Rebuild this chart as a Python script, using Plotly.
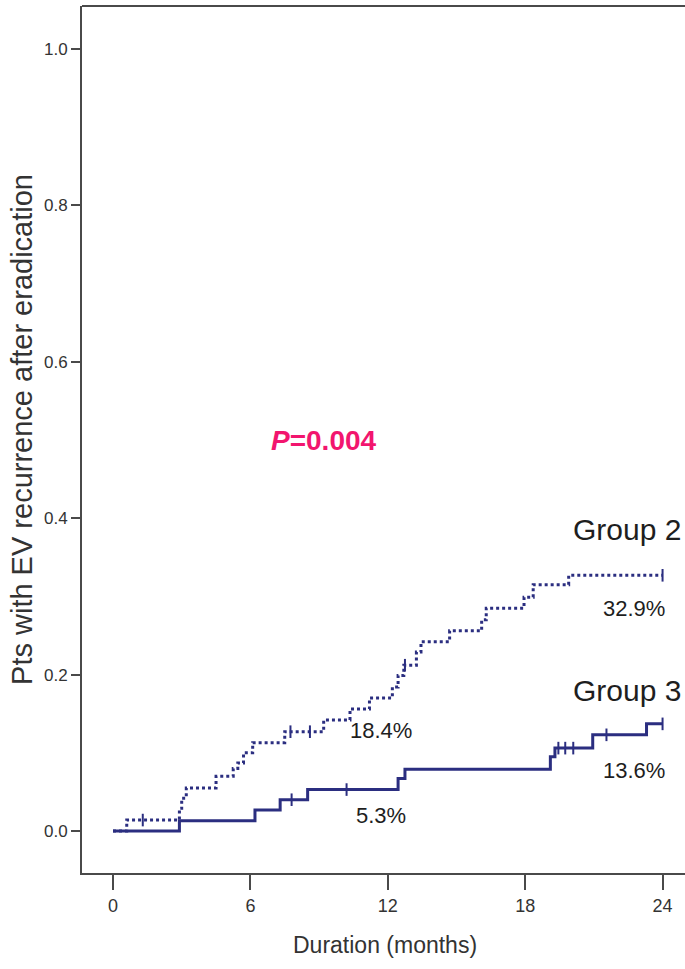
import plotly.graph_objects as go

# ---- data ----
g2_time = [0, 0.6, 2.9, 3.0, 3.2, 4.5, 5.25, 5.45, 5.7, 6.1, 7.5, 9.2, 10.35, 11.2, 12.2, 12.45, 12.7, 13.25, 13.45, 14.7, 16.1, 16.3, 17.95, 18.35, 19.9, 24.0]
g2_value = [0, 0.014, 0.029, 0.042, 0.055, 0.070, 0.080, 0.087, 0.100, 0.113, 0.127, 0.142, 0.156, 0.170, 0.184, 0.199, 0.212, 0.229, 0.242, 0.256, 0.270, 0.285, 0.299, 0.315, 0.327, 0.327]
g2_censor_time = [1.3, 7.75, 8.6, 12.75, 24.0]
g2_censor_value = [0.014, 0.127, 0.127, 0.212, 0.327]

g3_time = [0, 2.9, 6.2, 7.3, 8.5, 12.45, 12.75, 19.1, 19.3, 20.95, 23.3, 24.0]
g3_value = [0, 0.013, 0.027, 0.040, 0.053, 0.067, 0.079, 0.095, 0.106, 0.123, 0.137, 0.137]
g3_censor_time = [7.8, 10.2, 19.45, 19.75, 20.1, 21.55, 24.0]
g3_censor_value = [0.040, 0.053, 0.106, 0.106, 0.106, 0.123, 0.137]

x_ticks = [0, 6, 12, 18, 24]
y_ticks = [0.0, 0.2, 0.4, 0.6, 0.8, 1.0]
y_tick_labels = ["0.0", "0.2", "0.4", "0.6", "0.8", "1.0"]

NAVY = "#2B2E80"
AX = "#4a4a4a"
FONT = "Liberation Sans, Arial, sans-serif"

fig = go.Figure()
fig.add_trace(go.Scatter(x=g2_time, y=g2_value, mode="lines", line_shape="hv",
                         line=dict(color=NAVY, width=3, dash="3px,3px"), showlegend=False))
fig.add_trace(go.Scatter(x=g2_censor_time, y=g2_censor_value, mode="markers",
                         marker=dict(symbol="line-ns", size=9, line=dict(color=NAVY, width=2)),
                         showlegend=False))
fig.add_trace(go.Scatter(x=g3_time, y=g3_value, mode="lines", line_shape="hv",
                         line=dict(color=NAVY, width=3), showlegend=False))
fig.add_trace(go.Scatter(x=g3_censor_time, y=g3_censor_value, mode="markers",
                         marker=dict(symbol="line-ns", size=9, line=dict(color=NAVY, width=2)),
                         showlegend=False))

def ann(text, x, y, size, color="#1e1e1e", **kw):
    fig.add_annotation(text=text, x=x, y=y, showarrow=False,
                       xanchor="center", yanchor="middle",
                       font=dict(family=FONT, size=size, color=color), **kw)

ann("<b><i>P</i>=0.004</b>", 9.21, 0.500, 28, color="#F2156E")
ann("Group 2", 22.45, 0.385, 30)
ann("32.9%", 22.75, 0.285, 22)
ann("Group 3", 22.45, 0.180, 30)
ann("13.6%", 22.75, 0.078, 22)
ann("18.4%", 11.7, 0.129, 22)
ann("5.3%", 11.7, 0.020, 22)

ann("Pts with EV recurrence after eradication", -0.0995, 0.511, 29, color="#333333",
    xref="paper", yref="paper", textangle=-90)
ann("Duration (months)", 0.502, -0.083, 23, color="#333333",
    xref="paper", yref="paper")

# top frame line
fig.add_shape(type="line", xref="paper", yref="paper", x0=0, x1=1, y0=1, y1=1,
              line=dict(color=AX, width=2))

fig.update_layout(
    width=685, height=969,
    margin=dict(l=82, r=0, t=6, b=96),
    paper_bgcolor="white", plot_bgcolor="white",
    font=dict(family=FONT, color="#333333"),
    xaxis=dict(range=[-1.354, 24.98], tickvals=x_ticks, ticks="outside", ticklen=15,
               tickwidth=2, tickcolor=AX, showline=True, linecolor=AX, linewidth=2,
               showgrid=False, zeroline=False,
               tickfont=dict(family=FONT, size=18, color="#333333")),
    yaxis=dict(range=[-0.0537, 1.055], tickvals=y_ticks, ticktext=y_tick_labels,
               ticks="outside", ticklen=9, tickwidth=2, tickcolor=AX, showline=True,
               linecolor=AX, linewidth=2, showgrid=False, zeroline=False,
               tickfont=dict(family=FONT, size=17, color="#333333")),
)

fig.write_html("out.html", config={"displayModeBar": False},
               post_script="document.body.style.margin='0';")
